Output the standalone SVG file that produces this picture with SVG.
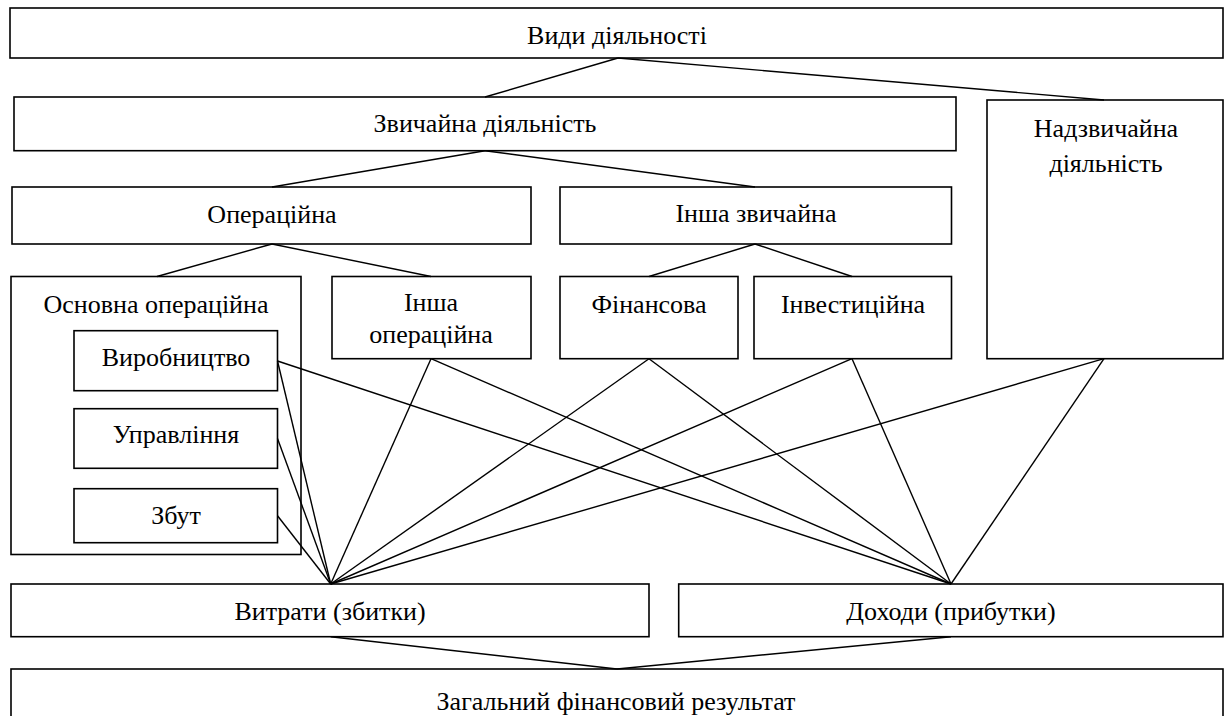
<svg xmlns="http://www.w3.org/2000/svg" width="1225" height="716" viewBox="0 0 1225 716" font-family="'Times New Roman', 'Liberation Serif', 'DejaVu Serif', serif">
  <style>
    .box { fill: #ffffff; stroke: #000000; stroke-width: 1.6; }
    text { font-family: 'Times New Roman', 'Liberation Serif', 'DejaVu Serif', serif; font-size: 26px; fill: #000000; text-anchor: middle; }
    .conn line { stroke: #000000; stroke-width: 1.4; }
  </style>
  <rect width="1225" height="716" fill="#ffffff"/>

  <g id="n_vydy">
    <rect class="box" x="10" y="8" width="1213" height="50"/>
    <text x="617" y="43.5">Види діяльності</text>
  </g>
  <g id="n_zvychaina">
    <rect class="box" x="14" y="97" width="942" height="53.7"/>
    <text x="485" y="131.7">Звичайна діяльність</text>
  </g>
  <g id="n_nadzvychaina">
    <rect class="box" x="987" y="100" width="236" height="258.7"/>
    <text x="1106" y="136.7">Надзвичайна</text>
    <text x="1106" y="171.7">діяльність</text>
  </g>
  <g id="n_operatsiina">
    <rect class="box" x="12" y="187" width="519" height="57"/>
    <text x="272" y="222.7">Операційна</text>
  </g>
  <g id="n_insha_zvychaina">
    <rect class="box" x="560" y="187" width="391.5" height="57"/>
    <text x="756" y="222">Інша звичайна</text>
  </g>
  <g id="n_osnovna">
    <rect class="box" x="11" y="276.5" width="290" height="278"/>
    <text x="156" y="313.3">Основна операційна</text>
  </g>
  <g id="n_vyrobnytstvo">
    <rect class="box" x="74" y="330.7" width="203.5" height="60"/>
    <text x="176" y="366">Виробництво</text>
  </g>
  <g id="n_upravlinnia">
    <rect class="box" x="74" y="408.7" width="203.5" height="59.6"/>
    <text x="176" y="443.3">Управління</text>
  </g>
  <g id="n_zbut">
    <rect class="box" x="74" y="488.7" width="203.5" height="54"/>
    <text x="176" y="524">Збут</text>
  </g>
  <g id="n_insha_operatsiina">
    <rect class="box" x="332" y="276.5" width="199" height="82.2"/>
    <text x="431" y="311">Інша</text>
    <text x="431" y="342.7">операційна</text>
  </g>
  <g id="n_finansova">
    <rect class="box" x="560" y="276.5" width="178" height="82.2"/>
    <text x="649" y="313.3">Фінансова</text>
  </g>
  <g id="n_investytsiina">
    <rect class="box" x="754" y="276.5" width="197.5" height="82.2"/>
    <text x="853" y="313.3">Інвестиційна</text>
  </g>
  <g id="n_vytraty">
    <rect class="box" x="11" y="584" width="638" height="52.7"/>
    <text x="330" y="620">Витрати (збитки)</text>
  </g>
  <g id="n_dokhody">
    <rect class="box" x="678.7" y="584" width="544.3" height="52.7"/>
    <text x="951" y="620">Доходи (прибутки)</text>
  </g>
  <g id="n_zahalnyi">
    <rect class="box" x="11" y="669" width="1212" height="52"/>
    <text x="616" y="710">Загальний фінансовий результат</text>
  </g>

  <!-- connectors, drawn last so they cross the enclosing box edge -->
  <g id="connectors" class="conn">
    <line x1="618" y1="58" x2="485" y2="97"/>
    <line x1="618" y1="58" x2="1104" y2="100"/>
    <line x1="485" y1="150.7" x2="272" y2="187"/>
    <line x1="485" y1="150.7" x2="755" y2="187"/>
    <line x1="272" y1="244" x2="157" y2="276.5"/>
    <line x1="272" y1="244" x2="431" y2="276.5"/>
    <line x1="755" y1="244" x2="649" y2="276.5"/>
    <line x1="755" y1="244" x2="852" y2="276.5"/>
    <!-- into expenses -->
    <line x1="277.5" y1="361" x2="330.7" y2="584"/>
    <line x1="277.5" y1="438.5" x2="330.7" y2="584"/>
    <line x1="277.5" y1="515.7" x2="330.7" y2="584"/>
    <line x1="431" y1="358.7" x2="330.7" y2="584"/>
    <line x1="649" y1="358.7" x2="330.7" y2="584"/>
    <line x1="852" y1="358.7" x2="330.7" y2="584"/>
    <line x1="1104" y1="358.7" x2="330.7" y2="584"/>
    <!-- into income -->
    <line x1="277.5" y1="361" x2="951" y2="584"/>
    <line x1="431" y1="358.7" x2="951" y2="584"/>
    <line x1="649" y1="358.7" x2="951" y2="584"/>
    <line x1="852" y1="358.7" x2="951" y2="584"/>
    <line x1="1104" y1="358.7" x2="951" y2="584"/>
    <!-- into overall result -->
    <line x1="330.7" y1="636.7" x2="617" y2="669"/>
    <line x1="951" y1="636.7" x2="617" y2="669"/>
  </g>
</svg>
